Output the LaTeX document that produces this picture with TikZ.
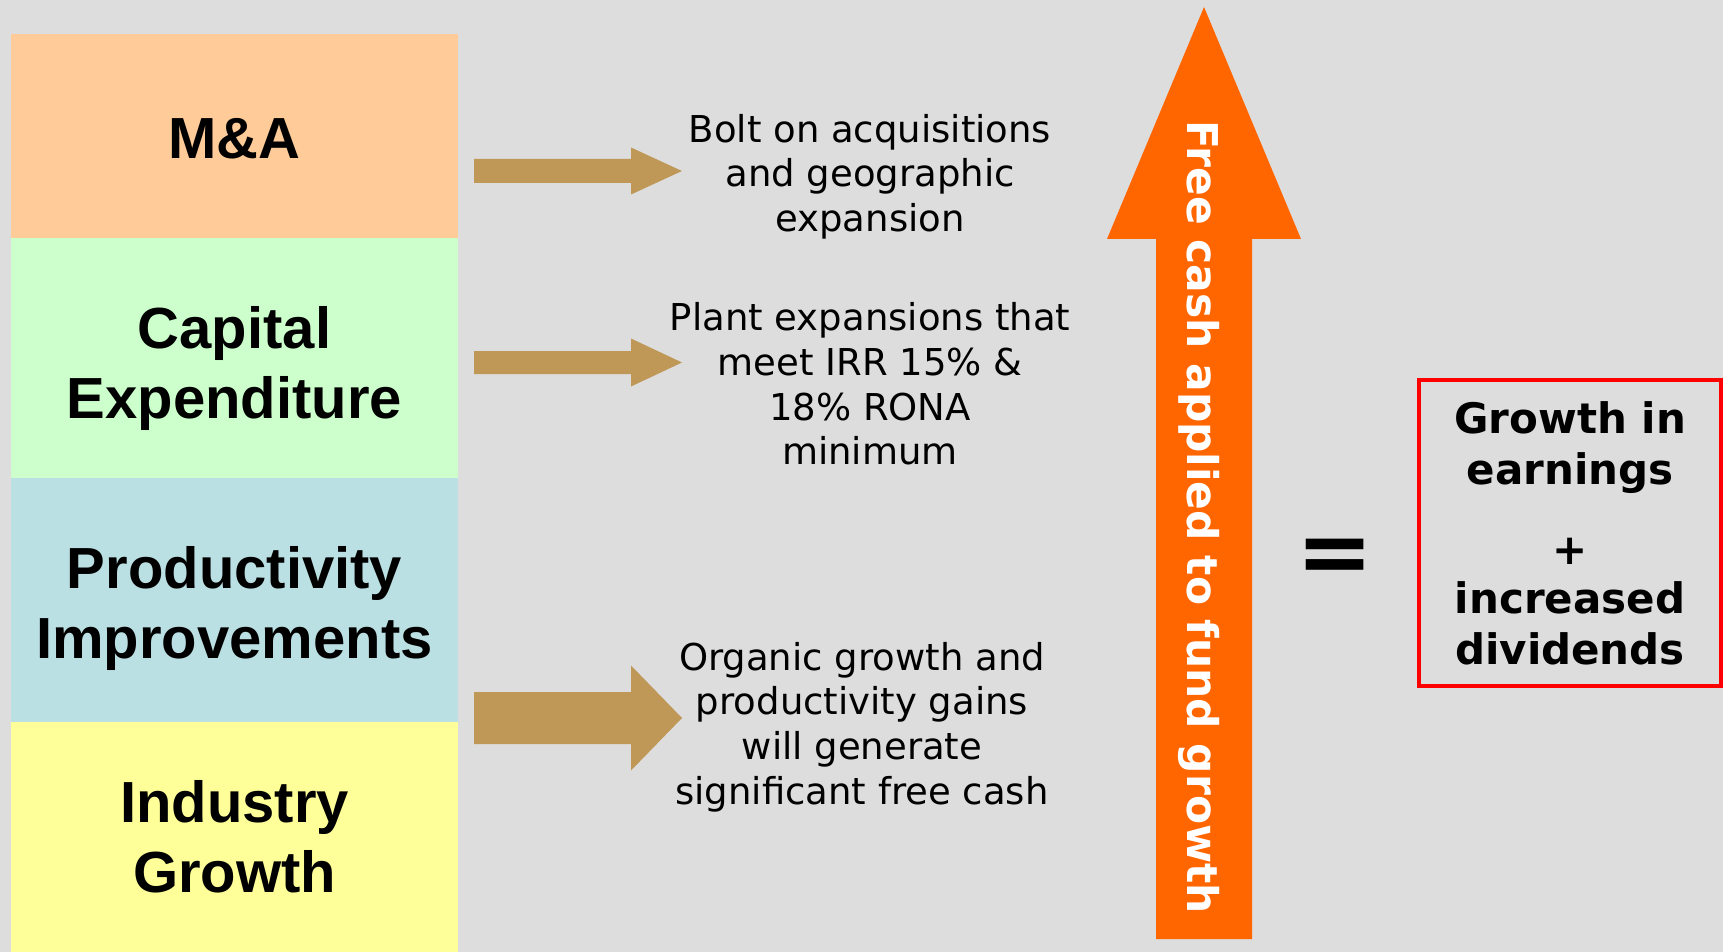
\documentclass[tikz,border=0pt]{standalone}
\usepackage{fontspec}
\setmainfont{DejaVu Sans}
\newfontfamily\labelfont{Liberation Sans}
\usetikzlibrary{calc}

\definecolor{bggray}{HTML}{DDDDDD}
\definecolor{peach}{HTML}{FFCC99}
\definecolor{mint}{HTML}{CCFFCC}
\definecolor{paleblue}{HTML}{BBE0E3}
\definecolor{paleyellow}{HTML}{FFFF99}
\definecolor{arrowtan}{HTML}{BF9858}
\definecolor{cashorange}{HTML}{FF6600}

\tikzset{
  catbox/.style={minimum width=223.5pt, inner sep=0, align=center, font=\labelfont\bfseries\fontsize{29}{35}\selectfont},
  note/.style={align=center, inner sep=0, font=\fontsize{18.5}{22.3}\selectfont},
}

\newcommand{\gainarrow}[4]{\fill[arrowtan] ($(#1)+(0,-#3)$) -- ($(#2)+(-51,-#3)$) -- ($(#2)+(-51,-#4)$) -- (#2) -- ($(#2)+(-51,#4)$) -- ($(#2)+(-51,#3)$) -- ($(#1)+(0,#3)$) -- cycle;}

\begin{document}
\begin{tikzpicture}[x=0.5pt, y=-0.5pt]
        \useasboundingbox (0,0) rectangle (1723,952);
        \fill [bggray] (0,0) rectangle (1723,952);
        \node [catbox, fill=peach, minimum height=102pt] (mna) at (234.5,136) {};
        \node [catbox, fill=mint, minimum height=120pt] (capex) at (234.5,358) {};
        \node [catbox, fill=paleblue, minimum height=122pt] (prod) at (234.5,600) {};
        \node [catbox, fill=paleyellow, minimum height=115pt] (industry) at (234.5,837) {};
        \node [catbox] (mnatext) at (234.5,139) {M\&A};
        \node [catbox] (capextext) at (234.5,369) {Capital\\Expenditure};
        \node [catbox] (prodtext) at (234.5,608) {Productivity\\Improvements};
        \node [catbox] (industrytext) at (234.5,837) {Industry\\Growth};
        \coordinate (s1) at (474,171);   \coordinate (t1) at (682,171);
        \coordinate (s2) at (474,362.5); \coordinate (t2) at (682,362.5);
        \coordinate (s3) at (474,718);   \coordinate (t3) at (682,718);
        \gainarrow{s1}{t1}{12}{23.5}
        \gainarrow{s2}{t2}{11.5}{24}
        \gainarrow{s3}{t3}{26}{52.5}
        \node [note] (bolt) at (870,176.5) {Bolt on acquisitions\\and geographic\\expansion};
        \node [note] (plant) at (870,384) {Plant expansions that\\meet IRR 15\% \&\\18\% RONA\\minimum};
        \node [note] (organic) at (862,727) {Organic growth and\\productivity gains\\will generate\\significant free cash};
        \fill [cashorange] (1156,939) -- (1156,239) -- (1107,239) -- (1204,7) -- (1301,239) -- (1252,239) -- (1252,939) -- cycle;
        \node [rotate=-90, inner sep=0, text=white, font=\bfseries\fontsize{21.2}{21.2}\selectfont] (fcf) at (1199,517) {Free cash applied to fund growth};
        \node [inner sep=0, font=\bfseries\fontsize{46}{46}\selectfont] (eq) at (1335.5,561) {=};
        \node [draw=red, line width=2pt, minimum width=151pt, minimum height=153pt, inner sep=0, align=center, font=\bfseries\fontsize{21}{25.5}\selectfont] (result) at (1570,533) {Growth in\\earnings\\[14.5pt]+\\[-0.9pt]increased\\dividends};
    \end{tikzpicture}
\end{document}
